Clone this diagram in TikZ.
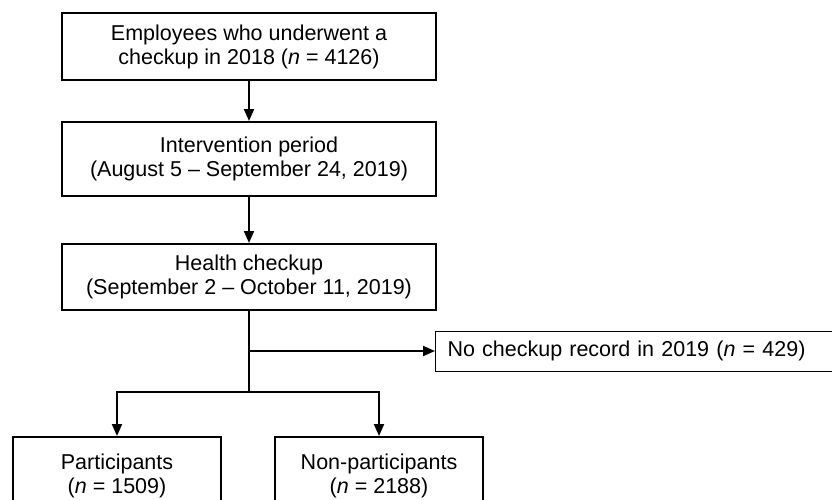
\documentclass[tikz,border=0pt]{standalone}
\usepackage{fontspec}
\setmainfont{Liberation Sans}
\usetikzlibrary{arrows.meta, positioning, calc}

\begin{document}
\begin{tikzpicture}[
		x=1pt, y=-1pt,
		block/.style={rectangle, draw, line width=2pt, text centered, align=center, inner sep=0pt, minimum width=374pt, font=\fontsize{21.5}{24}\selectfont},
		result/.style={block, minimum width=208pt, minimum height=73pt, text depth=0pt},
		excluded/.style={rectangle, draw, line width=1pt, align=left, inner xsep=12pt, inner ysep=0pt, text width=388pt, minimum height=40pt, font=\fontsize{21.5}{24}\selectfont},
		line/.style={draw, line width=2pt, -{Triangle[length=12pt, width=10pt]}}
	]
	\useasboundingbox (0,0) rectangle (832,499);

	% Cohort
	\node [block, minimum height=67pt] (cohort) at (249,46.5) {Employees who underwent a\\checkup in 2018 (\textit{n} = 4126)};

	% Intervention
	\node [block, minimum height=74pt] (interv) at (249,159) {Intervention period\\(August 5 -- September 24, 2019)};

	% Health checkup
	\node [block, minimum height=66pt] (checkup) at (249,277) {Health checkup\\(September 2 -- October 11, 2019)};

	% Excluded
	\node [excluded, anchor=west] (norecord) at (435,351) {No checkup record in 2019 (\textit{n} = 429)};

	% Groups
	\node [result] (part) at (117,473.5) {Participants\\(\textit{n} = 1509)};
	\node [result] (nonpart) at (379,473.5) {Non-participants\\(\textit{n} = 2188)};

	% Edges
	\path [line] (cohort) -- (interv);
	\path [line] (interv) -- (checkup);
	\coordinate (split) at (249,392);
	\path [draw, line width=2pt] (checkup) -- (split);
	\path [line] (checkup.south |- norecord.west) -- (norecord);
	\path [line] (split) -| (part);
	\path [line] (split) -| (nonpart);

\end{tikzpicture}
\end{document}
